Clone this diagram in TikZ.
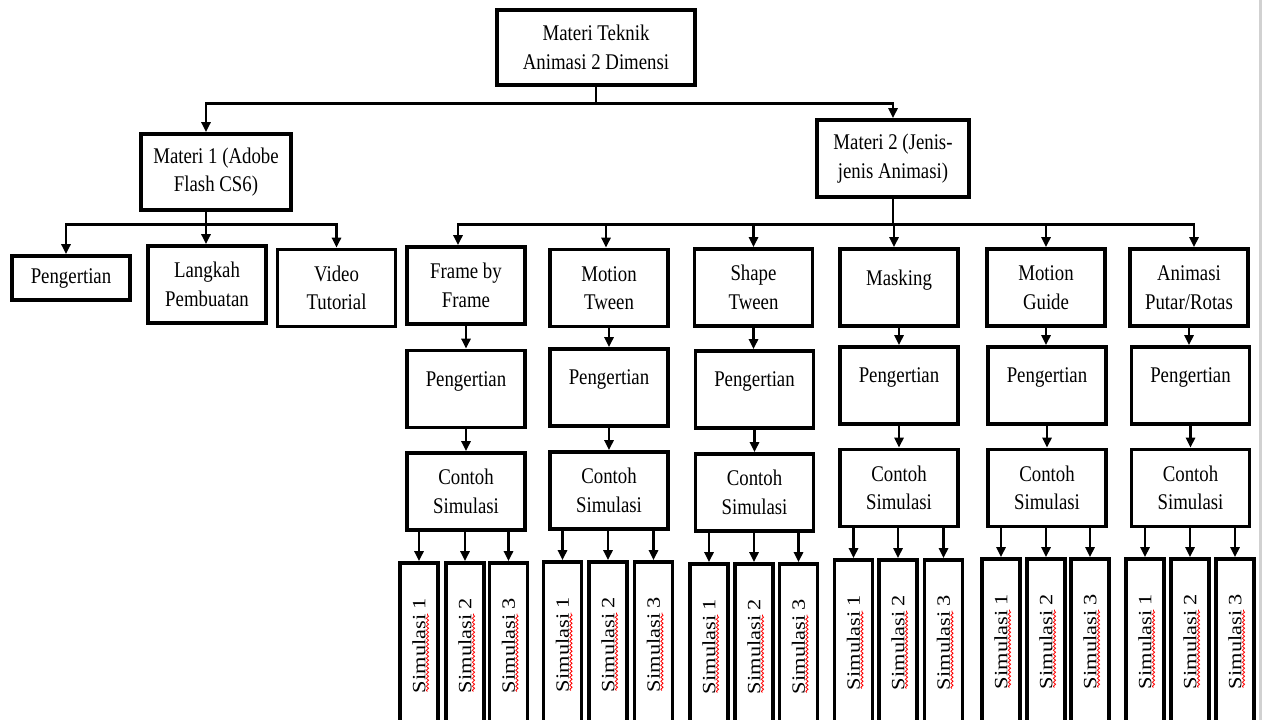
\documentclass[tikz,border=0pt]{standalone}
\usepackage{fontspec}
\setmainfont{Liberation Serif}[FakeStretch=0.84]
\newfontfamily\simfont{Liberation Serif}[FakeStretch=1.19]
\usetikzlibrary{arrows.meta,decorations.pathmorphing}
\tikzset{
  box/.style={draw, line width=3.6pt, align=center, inner sep=0pt, minimum width=118pt, minimum height=77pt, font=\fontsize{22.4}{28.5}\selectfont},
  simbox/.style={draw, line width=3.6pt, rotate=90, inner sep=0pt, minimum width=165pt, minimum height=38pt, font=\simfont\fontsize{18.8}{22}\selectfont},
  arr/.style={line width=2.8pt, -{Triangle[length=10pt,width=9pt]}},
  wave/.style={red, line width=0.8pt, decorate, decoration={snake, amplitude=1.1pt, segment length=4pt}}
}
\newcommand\squig[1]{\draw[wave] ([xshift=2pt,yshift=-46pt]#1.base) -- ([xshift=2pt,yshift=32pt]#1.base);}
\begin{document}
\begin{tikzpicture}[x=1pt,y=-1pt]
\useasboundingbox[fill=white] (0,0) rectangle (1262,720);
\fill[black!18] (1259,0) rectangle (1261.5,720);
% atas
\node[box, minimum width=198pt, minimum height=75pt] (top) at (596,47.5) {Materi Teknik\\Animasi 2 Dimensi};
\node[box, minimum width=150pt, minimum height=76pt] (m1) at (216,172) {Materi 1 (Adobe\\Flash CS6)};
\node[box, minimum width=152pt] (m2) at (893,158.5) {Materi 2 (Jenis-\\jenis Animasi)};
% materi 1
\node[box, minimum height=44pt] (peng0) at (71,278) {Pengertian};
\node[box] (langkah) at (207,284.5) {Langkah\\Pembuatan};
\node[box] (video) at (336.5,288) {Video\\Tutorial};
% materi 2
\node[box] (frame) at (466,285.5) {Frame by\\Frame};
\node[box] (mtween) at (609,288) {Motion\\Tween};
\node[box] (stween) at (753.5,287.5) {Shape\\Tween};
\node[box] (mask) at (899,287.5) {Masking\\[-8pt]\mbox{}};
\node[box] (guide) at (1046,287.5) {Motion\\Guide};
\node[box] (putar) at (1189,287.5) {Animasi\\Putar/Rotas};
% pengertian
\node[box] (p1) at (466,389) {Pengertian\\[-8pt]\mbox{}};
\node[box] (p2) at (609,387.5) {Pengertian\\[-8pt]\mbox{}};
\node[box] (p3) at (754.5,389.5) {Pengertian\\[-8pt]\mbox{}};
\node[box] (p4) at (899,385.5) {Pengertian\\[-8pt]\mbox{}};
\node[box] (p5) at (1047,385.5) {Pengertian\\[-8pt]\mbox{}};
\node[box] (p6) at (1190.5,385.5) {Pengertian\\[-8pt]\mbox{}};
% contoh simulasi
\node[box] (c1) at (466,491.5) {Contoh\\Simulasi};
\node[box] (c2) at (609,490.5) {Contoh\\Simulasi};
\node[box] (c3) at (754.5,492.5) {Contoh\\Simulasi};
\node[box] (c4) at (899,488) {Contoh\\Simulasi};
\node[box] (c5) at (1047,488) {Contoh\\Simulasi};
\node[box] (c6) at (1190.5,488) {Contoh\\Simulasi};
% simulasi
\node[simbox] (s11) at (419,645.5) {Simulasi 1};
\node[simbox] (s12) at (465,645.5) {Simulasi 2};
\node[simbox] (s13) at (508.5,645.5) {Simulasi 3};
\node[simbox] (s21) at (562.5,644.5) {Simulasi 1};
\node[simbox] (s22) at (608,644.5) {Simulasi 2};
\node[simbox] (s23) at (653.5,644.5) {Simulasi 3};
\node[simbox] (s31) at (709,646.5) {Simulasi 1};
\node[simbox] (s32) at (754,646.5) {Simulasi 2};
\node[simbox] (s33) at (798.5,646.5) {Simulasi 3};
\node[simbox] (s41) at (853.5,642.5) {Simulasi 1};
\node[simbox] (s42) at (898,642.5) {Simulasi 2};
\node[simbox] (s43) at (943.5,642.5) {Simulasi 3};
\node[simbox] (s51) at (1001,641.5) {Simulasi 1};
\node[simbox] (s52) at (1046,641.5) {Simulasi 2};
\node[simbox] (s53) at (1090,641.5) {Simulasi 3};
\node[simbox] (s61) at (1145,641.5) {Simulasi 1};
\node[simbox] (s62) at (1190,641.5) {Simulasi 2};
\node[simbox] (s63) at (1235,641.5) {Simulasi 3};
\foreach \s in {s11,s12,s13,s21,s22,s23,s31,s32,s33,s41,s42,s43,s51,s52,s53,s61,s62,s63}
  {\squig{\s}}
% panah
\draw[arr] (top.south) -- ++(0,17) -| ([xshift=-10pt]m1.north);
\draw[arr] (top.south) -- ++(0,17) -| (m2.north);
\draw[arr] ([xshift=-10pt]m1.south) -- ++(0,13) -| ([xshift=-5pt]peng0.north);
\draw[arr] ([xshift=-10pt]m1.south) -- ++(0,13) -| ([xshift=-1pt]langkah.north);
\draw[arr] ([xshift=-10pt]m1.south) -- ++(0,13) -| (video.north);
\draw[arr] (m2.south) -- ++(0,26) -| ([xshift=-8pt]frame.north);
\draw[arr] (m2.south) -- ++(0,26) -| ([xshift=-3pt]mtween.north);
\draw[arr] (m2.south) -- ++(0,26) -| (stween.north);
\draw[arr] (m2.south) -- ++(0,26) -| ([xshift=-5pt]mask.north);
\draw[arr] (m2.south) -- ++(0,26) -| (guide.north);
\draw[arr] (m2.south) -- ++(0,26) -| ([xshift=5pt]putar.north);
\draw[arr] (frame.south) -- (frame.south |- p1.north);
\draw[arr] (mtween.south) -- (mtween.south |- p2.north);
\draw[arr] (stween.south) -- (stween.south |- p3.north);
\draw[arr] (mask.south) -- (mask.south |- p4.north);
\draw[arr] (guide.south) -- (guide.south |- p5.north);
\draw[arr] (putar.south) -- (putar.south |- p6.north);
\draw[arr] (p1.south) -- (p1.south |- c1.north);
\draw[arr] (p2.south) -- (p2.south |- c2.north);
\draw[arr] (p3.south) -- (p3.south |- c3.north);
\draw[arr] (p4.south) -- (p4.south |- c4.north);
\draw[arr] (p5.south) -- (p5.south |- c5.north);
\draw[arr] (p6.south) -- (p6.south |- c6.north);
\draw[arr] (c1.south -| s11.east) -- (s11.east);
\draw[arr] (c1.south -| s12.east) -- (s12.east);
\draw[arr] (c1.south -| s13.east) -- (s13.east);
\draw[arr] (c2.south -| s21.east) -- (s21.east);
\draw[arr] (c2.south -| s22.east) -- (s22.east);
\draw[arr] (c2.south -| s23.east) -- (s23.east);
\draw[arr] (c3.south -| s31.east) -- (s31.east);
\draw[arr] (c3.south -| s32.east) -- (s32.east);
\draw[arr] (c3.south -| s33.east) -- (s33.east);
\draw[arr] (c4.south -| s41.east) -- (s41.east);
\draw[arr] (c4.south -| s42.east) -- (s42.east);
\draw[arr] (c4.south -| s43.east) -- (s43.east);
\draw[arr] (c5.south -| s51.east) -- (s51.east);
\draw[arr] (c5.south -| s52.east) -- (s52.east);
\draw[arr] (c5.south -| s53.east) -- (s53.east);
\draw[arr] (c6.south -| s61.east) -- (s61.east);
\draw[arr] (c6.south -| s62.east) -- (s62.east);
\draw[arr] (c6.south -| s63.east) -- (s63.east);
\end{tikzpicture}
\end{document}
